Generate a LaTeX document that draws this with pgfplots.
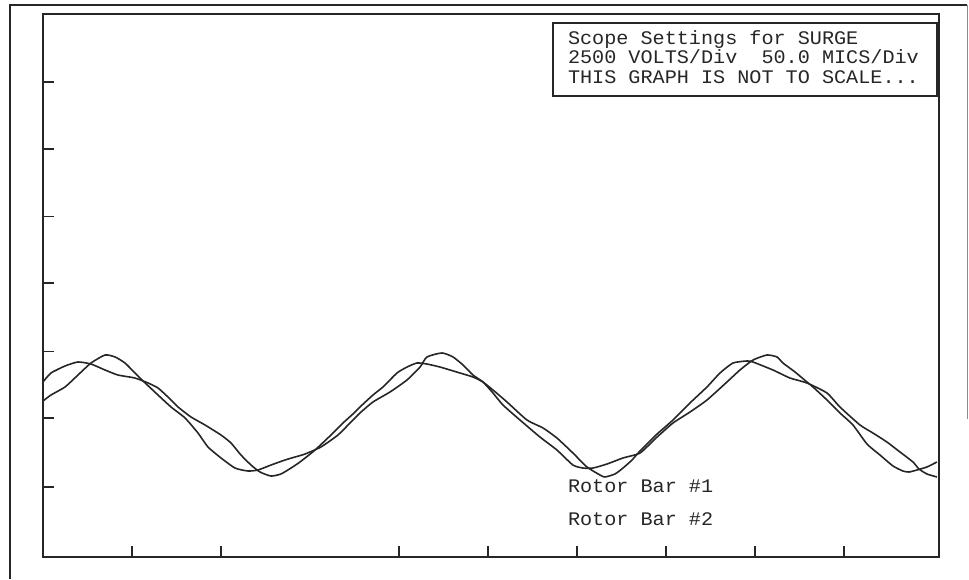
\documentclass[border=0pt]{standalone}
\usepackage{pgfplots}
\pgfplotsset{compat=1.18}
\usepackage{fontspec}
\setmainfont{Liberation Sans}
\newfontfamily\plotfont[FakeStretch=1.05]{Liberation Mono}
\begin{document}
\begin{tikzpicture}
\path[use as bounding box] (0,0) rectangle (484.5pt,289.5pt);
% outer page frame
\draw[line width=0.8pt, black!85] (5pt,0pt) -- (5pt,287pt) -- (483.5pt,287pt);
\draw[line width=0.5pt, black!45] (483.5pt,287pt) -- (483.5pt,80pt);
\begin{axis}[
  at={(21.5pt,11pt)}, anchor=south west,
  scale only axis, width=448pt, height=271.5pt,
  xmin=0, xmax=9.967, ymin=0, ymax=8,
  axis line style={line width=0.75pt, black!85},
  xtick={0.990,1.980,3.960,4.950,5.940,6.930,7.920,8.910},
  ytick={1.03,2.05,3.03,4.04,5.02,6.01,7.0},
  xticklabels={}, yticklabels={},
  xtick pos=bottom, ytick pos=left,
  tick align=inside, major tick length=5.5pt,
  tick style={line width=0.75pt, black!85},
  clip=false,
]
\addplot[black!85, line width=0.8pt, smooth, tension=0.35] table {
0.000 2.578
0.089 2.711
0.245 2.814
0.389 2.873
0.534 2.843
0.690 2.755
0.834 2.681
1.023 2.637
1.168 2.564
1.279 2.490
1.390 2.357
1.502 2.210
1.646 2.063
1.802 1.945
1.980 1.797
2.091 1.680
2.202 1.503
2.314 1.355
2.414 1.252
2.536 1.193
2.647 1.223
2.759 1.311
2.859 1.400
3.026 1.576
3.192 1.783
3.337 1.974
3.448 2.107
3.526 2.210
3.671 2.387
3.782 2.505
3.938 2.711
4.049 2.799
4.160 2.858
4.271 2.843
4.416 2.799
4.638 2.711
4.783 2.652
4.894 2.578
5.006 2.460
5.161 2.284
5.384 2.018
5.562 1.901
5.717 1.753
5.895 1.532
6.051 1.326
6.196 1.208
6.251 1.179
6.363 1.223
6.452 1.311
6.552 1.429
6.641 1.562
6.819 1.797
7.008 2.018
7.197 2.269
7.386 2.505
7.531 2.711
7.675 2.858
7.831 2.888
7.898 2.873
8.120 2.755
8.309 2.637
8.498 2.564
8.721 2.416
8.865 2.210
9.088 1.945
9.232 1.827
9.388 1.694
9.533 1.547
9.677 1.400
9.744 1.297
9.833 1.223
9.944 1.179
};
\addplot[black!85, line width=0.8pt, smooth, tension=0.35] table {
0.000 2.298
0.089 2.387
0.245 2.505
0.389 2.681
0.534 2.858
0.690 2.976
0.801 2.947
0.912 2.858
1.023 2.711
1.090 2.622
1.279 2.387
1.424 2.210
1.580 2.048
1.724 1.827
1.835 1.621
1.980 1.459
2.136 1.311
2.280 1.267
2.392 1.282
2.536 1.355
2.692 1.429
2.803 1.473
2.914 1.517
3.092 1.621
3.281 1.797
3.415 1.974
3.526 2.122
3.671 2.284
3.860 2.431
4.049 2.608
4.194 2.799
4.271 2.947
4.438 3.006
4.561 2.947
4.672 2.829
4.783 2.681
4.894 2.578
5.006 2.416
5.117 2.239
5.306 2.018
5.528 1.768
5.717 1.576
5.895 1.355
6.007 1.311
6.118 1.311
6.274 1.370
6.452 1.459
6.641 1.532
6.819 1.753
7.008 1.974
7.197 2.136
7.386 2.313
7.608 2.578
7.753 2.755
7.898 2.902
8.053 2.976
8.165 2.947
8.231 2.858
8.365 2.726
8.498 2.578
8.565 2.505
8.721 2.313
8.865 2.122
9.010 1.945
9.166 1.665
9.310 1.503
9.455 1.341
9.566 1.267
9.633 1.252
9.722 1.282
9.833 1.326
9.944 1.400
};
\end{axis}
% scope settings box
\draw[line width=0.75pt, black!85] (276.5pt,241.5pt) rectangle (468.5pt,278pt);
\begin{scope}[every node/.style={anchor=base west, inner sep=0pt, outer sep=0pt, font=\plotfont\fontsize{9.6pt}{10pt}\selectfont, text=black!85}]
\node at (284pt,267pt) {Scope Settings for SURGE};
\node at (284pt,257.5pt) {2500 VOLTS/Div\ \ 50.0 MICS/Div};
\node at (284pt,247.5pt) {THIS GRAPH IS NOT TO SCALE...};
\node at (284pt,43.5pt) {Rotor Bar \#1};
\node at (284pt,27pt) {Rotor Bar \#2};
\end{scope}
\end{tikzpicture}
\end{document}
